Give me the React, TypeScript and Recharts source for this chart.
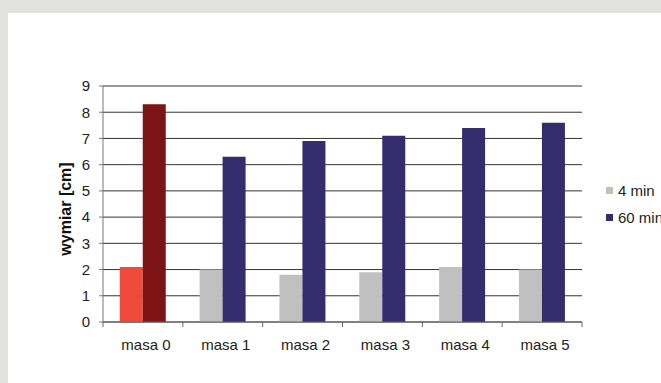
import React from "react";
import { Bar, BarChart, CartesianGrid, Cell, Label, XAxis, YAxis } from "recharts";

const categories = ["masa 0", "masa 1", "masa 2", "masa 3", "masa 4", "masa 5"];
const after4min = [2.1, 2.0, 1.8, 1.9, 2.1, 2.0];
const after60min = [8.3, 6.3, 6.9, 7.1, 7.4, 7.6];
const yTicks = [0, 1, 2, 3, 4, 5, 6, 7, 8, 9];
const seriesNames = ["4 min", "60 min"];

const FONT = '"Liberation Sans", Arial, sans-serif';
const GRAY = "#c0c0c0";
const NAVY = "#332d6e";
const RED = "#f04a3c";
const DARK_RED = "#7c1416";

const W = 653;
const H = 370;
const X_HEIGHT = 30;
const MARGIN = { top: 73, right: 79, bottom: 61 - X_HEIGHT, left: 0 };
const Y_WIDTH = 95;
const BAND = (W - MARGIN.right - Y_WIDTH) / categories.length;

const data = categories.map((name, i) => ({
  name,
  m4: after4min[i],
  m60: after60min[i],
}));

// category label with tick marks on the band edges instead of the centre
function MasaTick(props: any) {
  const { x, y, payload, index } = props;
  const left = x - BAND / 2;
  const right = x + BAND / 2;
  return (
    <g>
      <line x1={left} x2={left} y1={y} y2={y + 5} stroke="#666" />
      {index === categories.length - 1 && (
        <line x1={right} x2={right} y1={y} y2={y + 5} stroke="#666" />
      )}
      <text x={x + 3} y={y + 28} textAnchor="middle" fontSize={15} fill="#222" fontFamily={FONT}>
        {payload.value}
      </text>
    </g>
  );
}

function SideLegend() {
  const colors = [GRAY, NAVY];
  return (
    <div
      style={{
        position: "absolute",
        left: 598,
        top: 164,
        fontFamily: FONT,
        fontSize: 15,
        color: "#222",
      }}
    >
      {seriesNames.map((s, i) => (
        <div key={s} style={{ display: "flex", alignItems: "center", height: 27, whiteSpace: "nowrap" }}>
          <span style={{ width: 7, height: 7, background: colors[i], marginRight: 5, display: "inline-block" }} />
          {s}
        </div>
      ))}
    </div>
  );
}

export default function App() {
  return (
    <div style={{ position: "absolute", left: 0, top: 0, width: 661, height: 383, background: "#e2e2e0", overflow: "hidden" }}>
      <div style={{ position: "absolute", left: 8, top: 13, width: W, height: H, background: "#fff" }}>
        <BarChart width={W} height={H} data={data} margin={MARGIN} barCategoryGap="21%" barGap={0}>
          <CartesianGrid vertical={false} stroke="#333" />
          <XAxis
            dataKey="name"
            height={X_HEIGHT}
            axisLine={{ stroke: "#666" }}
            tickLine={false}
            tickSize={0}
            tickMargin={0}
            interval={0}
            tick={(p: any) => <MasaTick {...p} />}
          />
          <YAxis
            width={Y_WIDTH}
            domain={[0, 9]}
            ticks={yTicks}
            interval={0}
            axisLine={{ stroke: "#777" }}
            tickLine={{ stroke: "#777" }}
            tickSize={4}
            tickMargin={9}
            tick={{ fontSize: 15, fill: "#222", fontFamily: FONT }}
          >
            <Label
              content={(p: any) => {
                const vb = p.viewBox;
                const cx = vb.x + 57;
                const cy = vb.y + vb.height / 2 + 5;
                return (
                  <text
                    x={cx}
                    y={cy}
                    transform={`rotate(-90, ${cx}, ${cy})`}
                    textAnchor="middle"
                    dominantBaseline="central"
                    fontSize={16}
                    fontWeight="bold"
                    fill="#111"
                    fontFamily={FONT}
                  >
                    wymiar [cm]
                  </text>
                );
              }}
            />
          </YAxis>
          <Bar dataKey="m4" name={seriesNames[0]} fill={GRAY} isAnimationActive={false}>
            {data.map((d, i) => (
              <Cell key={d.name} fill={i === 0 ? RED : GRAY} />
            ))}
          </Bar>
          <Bar dataKey="m60" name={seriesNames[1]} fill={NAVY} isAnimationActive={false}>
            {data.map((d, i) => (
              <Cell key={d.name} fill={i === 0 ? DARK_RED : NAVY} />
            ))}
          </Bar>
        </BarChart>
        <SideLegend />
      </div>
    </div>
  );
}
